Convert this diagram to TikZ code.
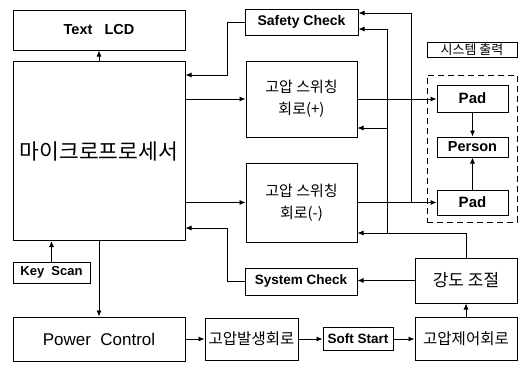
\documentclass[tikz,border=0pt]{standalone}
\usepackage{fontspec}
\setmainfont{Liberation Sans}
\newfontfamily\kr{Noto Sans CJK KR}
\usetikzlibrary{positioning, arrows.meta}

\begin{document}
\begin{tikzpicture}[
        x=1pt, y=-1pt,
        box/.style={draw, rectangle, line width=1pt, inner sep=0pt, align=center},
        lbl/.style={font=\bfseries\fontsize{13.5}{16}\selectfont},
        krlbl/.style={font=\kr\fontsize{15.5}{21}\selectfont},
        arrow/.style={-{Latex[length=6pt, width=5pt]}, line width=0.8pt}
    ]
        \useasboundingbox (0,0) rectangle (523,370);

        % Nodes
        \node[box, lbl, font=\bfseries\fontsize{14.5}{16}\selectfont, minimum width=172pt, minimum height=40pt] (lcd) at (99,30) {Text\ \ \ LCD};
        \node[box, minimum width=172pt, minimum height=179pt, font=\kr\fontsize{21.5}{24}\selectfont] (mcu) at (99,151) {마이크로프로세서};
        \node[box, lbl, font=\bfseries\fontsize{14}{16}\selectfont, minimum width=113pt, minimum height=26pt] (safety) at (301.5,22) {Safety Check};
        \node[box, krlbl, font=\kr\fontsize{15}{22}\selectfont, minimum width=111pt, minimum height=76pt] (hvp) at (301.5,99) {고압 스위칭\\회로(+)};
        \node[box, krlbl, font=\kr\fontsize{15}{22}\selectfont, minimum width=111pt, minimum height=79pt] (hvm) at (301.5,202.5) {고압 스위칭\\회로(-)};
        \node[box, line width=0.8pt, minimum width=90pt, minimum height=15pt, font=\kr\fontsize{13}{14}\selectfont] (outlabel) at (472,49.5) {시스템\ 출력};
        \node[box, dashed, dash pattern=on 6pt off 4pt, minimum width=90pt, minimum height=147pt] (outframe) at (472,148.5) {};
        \node[box, lbl, font=\bfseries\fontsize{15}{17}\selectfont, minimum width=71pt, minimum height=27pt] (pad1) at (472.5,98.5) {Pad};
        \node[box, lbl, font=\bfseries\fontsize{14.5}{16}\selectfont, minimum width=71pt, minimum height=20pt] (person) at (472.5,147) {Person};
        \node[box, lbl, font=\bfseries\fontsize{15}{17}\selectfont, minimum width=71pt, minimum height=25pt] (pad2) at (472.5,202.5) {Pad};
        \node[box, lbl, minimum width=112pt, minimum height=27pt] (syscheck) at (301,281.5) {System Check};
        \node[box, lbl, font=\bfseries\fontsize{13}{15}\selectfont, minimum width=77pt, minimum height=21pt] (keyscan) at (51.5,272.5) {Key\ \ Scan};
        \node[box, krlbl, font=\kr\fontsize{17}{21}\selectfont, minimum width=102pt, minimum height=45pt] (intensity) at (466,280.5) {강도\ 조절};
        \node[box, krlbl, minimum width=102pt, minimum height=43pt] (hvctrl) at (466,339) {고압제어회로};
        \node[box, lbl, minimum width=70pt, minimum height=23pt] (softstart) at (358,339) {Soft Start};
        \node[box, krlbl, minimum width=93pt, minimum height=42pt] (hvgen) at (251.5,339) {고압발생회로};
        \node[box, font=\fontsize{17}{19}\selectfont, minimum width=172pt, minimum height=44pt] (power) at (99,339) {Power\ \ Control};

        % Bus points
        \coordinate (fbSafe) at (227,75);
        \coordinate (fbSys) at (227,228);
        \coordinate (busA) at (411,13);
        \coordinate (busB) at (387,233);
        \coordinate (busBtop) at (387,29);
        \coordinate (busBmid) at (387,128);

        % Arrows
        \draw[arrow] (mcu.north) -- (lcd.south);
        \draw[arrow] (safety.west) -| (fbSafe) -- (mcu.east |- fbSafe);
        \draw[arrow] (syscheck.west) -| (fbSys) -- (mcu.east |- fbSys);
        \draw[arrow] (mcu.east |- hvp) -- (hvp.west);
        \draw[arrow] (mcu.east |- hvm) -- (hvm.west);
        \draw[arrow] (hvp.east) -- (pad1.west |- hvp.east);
        \draw[arrow] (hvm.east) -- (pad2.west);
        \draw[arrow] (pad1.south) -- (person.north);
        \draw[arrow] (pad2.north) -- (person.south);
        \draw[arrow] (busA |- hvm.east) -- (busA) -- (safety.east |- busA);
        \draw[arrow] (intensity.north) |- (hvm.east |- busB);
        \draw[arrow] (busB) -- (busBtop) -- (safety.east |- busBtop);
        \draw[arrow] (busBmid) -- (hvp.east |- busBmid);
        \draw[arrow] (intensity.west) -- (syscheck.east |- intensity.west);
        \draw[arrow] (hvctrl.north) -- (intensity.south);
        \draw[arrow] (keyscan.north) -- (keyscan.north |- mcu.south);
        \draw[arrow] (mcu.south) -- (power.north);
        \draw[arrow] (power.east) -- (hvgen.west);
        \draw[arrow] (hvgen.east) -- (softstart.west);
        \draw[arrow] (softstart.east) -- (hvctrl.west);
\end{tikzpicture}
\end{document}
